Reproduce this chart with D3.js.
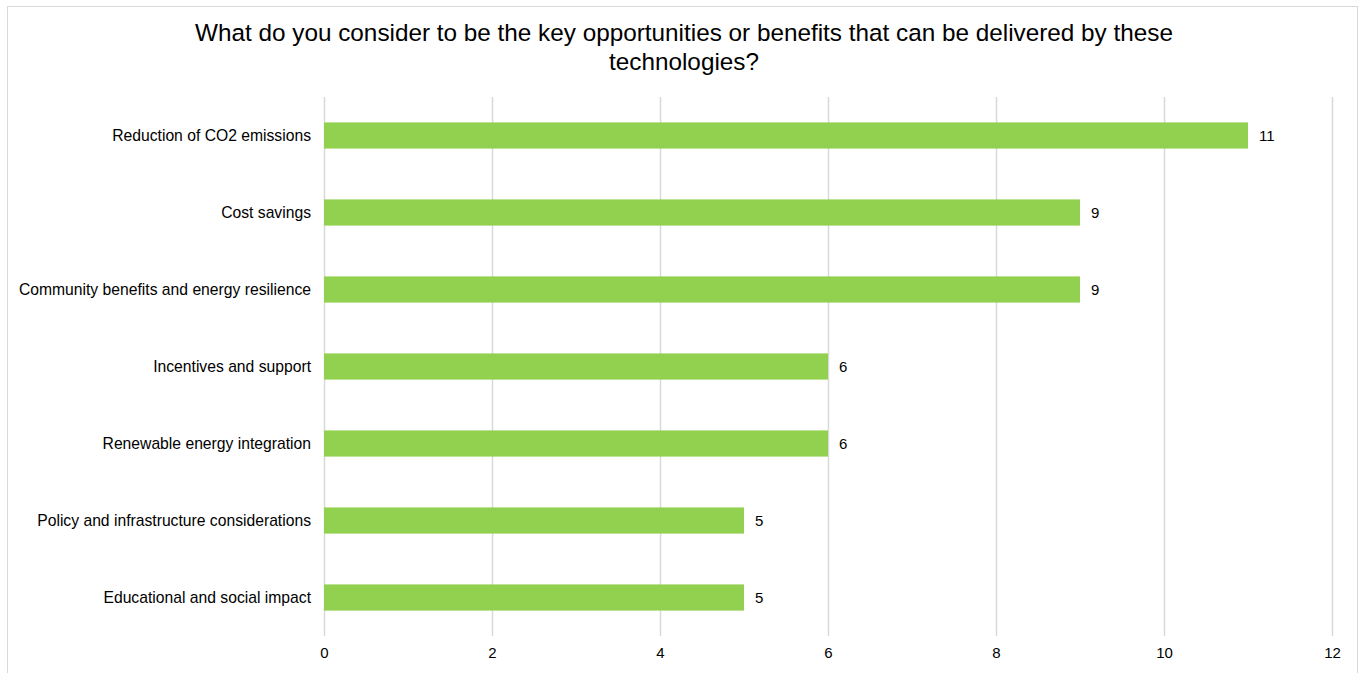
<!DOCTYPE html>
<html>
<head>
<meta charset="utf-8">
<script src="https://cdn.jsdelivr.net/npm/d3@7"></script>
<style>
  html, body { margin: 0; padding: 0; background: #fff; }
  svg { display: block; font-family: "Liberation Sans", Arial, sans-serif; }
</style>
</head>
<body>
<svg id="chart" width="1364" height="673"></svg>
<script>
// Survey responses: number of mentions per benefit
const categories = [
  "Reduction of CO2 emissions",
  "Cost savings",
  "Community benefits and energy resilience",
  "Incentives and support",
  "Renewable energy integration",
  "Policy and infrastructure considerations",
  "Educational and social impact"
];
const counts = [11, 9, 9, 6, 6, 5, 5];
const xTicks = [0, 2, 4, 6, 8, 10, 12];
const titleLines = [
  "What do you consider to be the key opportunities or benefits that can be delivered by these",
  "technologies?"
];

const svg = d3.select("#chart");
const W = 1364, H = 673;
const margin = { left: 324, right: 32, top: 97, bottom: 37 };

// outer chart frame
svg.append("rect")
  .attr("x", 7.5).attr("y", 6.5)
  .attr("width", 1350).attr("height", 680)
  .attr("fill", "#fff").attr("stroke", "#d9d9d9").attr("stroke-width", 1);

const x = d3.scaleLinear().domain([0, 12]).range([margin.left, W - margin.right]);
const y = d3.scaleBand().domain(categories)
  .range([margin.top, H - margin.bottom])
  .paddingInner(0.66).paddingOuter(0.33);

// title
svg.append("g").selectAll("text").data(titleLines).join("text")
  .attr("x", 684).attr("y", (d, i) => 41 + i * 29)
  .attr("text-anchor", "middle")
  .attr("font-size", 24.3).attr("fill", "#000")
  .text(d => d);

// vertical gridlines
svg.append("g").selectAll("line").data(xTicks).join("line")
  .attr("x1", d => Math.round(x(d)) + 0.5).attr("x2", d => Math.round(x(d)) + 0.5)
  .attr("y1", margin.top).attr("y2", H - margin.bottom)
  .attr("stroke", "#d9d9d9").attr("stroke-width", 1.5);

// x axis labels
const xAxis = d3.axisBottom(x).tickValues(xTicks).tickSize(0).tickPadding(11);
const gx = svg.append("g")
  .attr("transform", `translate(0,${H - margin.bottom})`)
  .call(xAxis);
gx.select(".domain").remove();
gx.selectAll("text").attr("font-size", 15).attr("fill", "#000")
  .attr("font-family", "Liberation Sans, Arial, sans-serif");

// category labels
const yAxis = d3.axisLeft(y).tickSize(0).tickPadding(13);
const gy = svg.append("g")
  .attr("transform", `translate(${margin.left},0)`)
  .call(yAxis);
gy.select(".domain").remove();
gy.selectAll("text").attr("font-size", 15.7).attr("fill", "#000")
  .attr("font-family", "Liberation Sans, Arial, sans-serif");

// bars
svg.append("g").selectAll("rect").data(categories).join("rect")
  .attr("x", x(0))
  .attr("y", d => y(d))
  .attr("width", (d, i) => x(counts[i]) - x(0))
  .attr("height", y.bandwidth())
  .attr("fill", "#92d050");

// value labels
svg.append("g").selectAll("text").data(categories).join("text")
  .attr("x", (d, i) => x(counts[i]) + 11)
  .attr("y", d => y(d) + y.bandwidth() / 2)
  .attr("dy", "0.35em")
  .attr("font-size", 15).attr("fill", "#000")
  .text((d, i) => counts[i]);
</script>
</body>
</html>
